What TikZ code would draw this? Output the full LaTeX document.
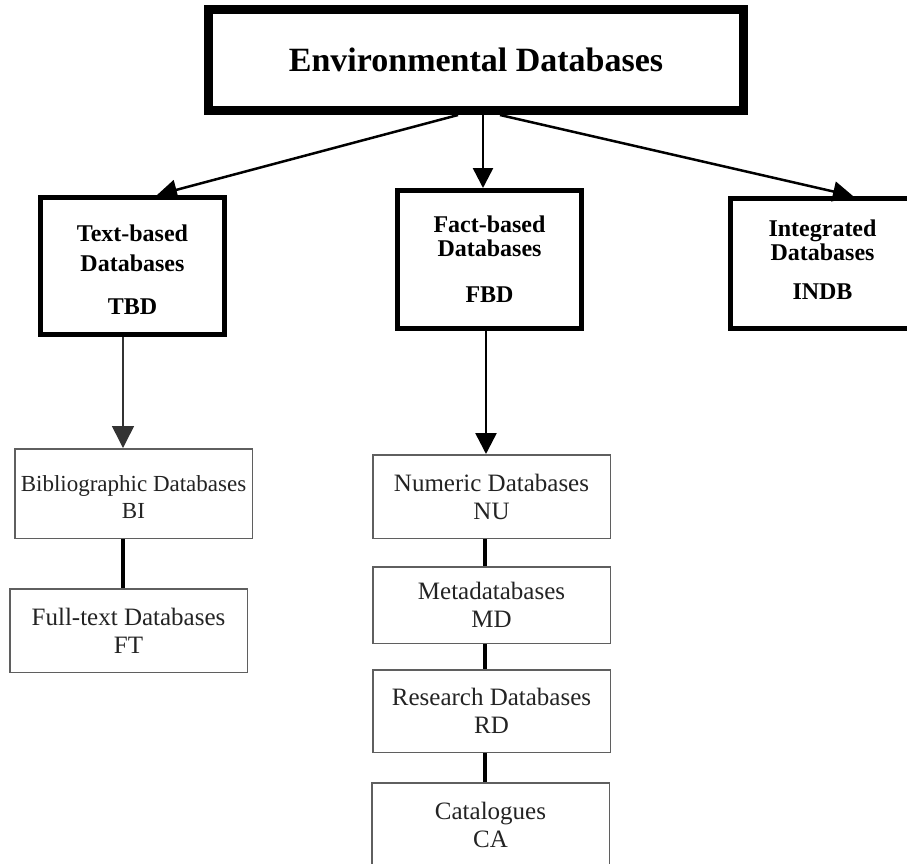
\documentclass[tikz,border=0pt]{standalone}
\usepackage{fontspec}
\setmainfont{Liberation Serif}
\usepackage{xcolor}
\usepackage{tikz}
\usetikzlibrary{arrows.meta}
\definecolor{boxgray}{RGB}{95, 95, 95}
\definecolor{textgray}{RGB}{35, 35, 35}

\begin{document}
\begin{tikzpicture}[x=1pt, y=-1pt,
    topbox/.style={draw, line width=9pt, minimum width=535pt,
                   minimum height=101pt, inner sep=0pt},
    kindbox/.style={draw, line width=5pt, minimum width=184pt, inner sep=0pt,
                    align=center, font=\fontsize{24}{24}\selectfont\bfseries},
    subbox/.style={draw=boxgray, line width=1.5pt, minimum width=237.5pt,
                   inner sep=0pt, align=center, text=textgray,
                   font=\fontsize{25}{28}\selectfont},
    bigarrow/.style={line width=2.5pt, -{Triangle[length=20pt, width=20pt]}},
    link/.style={line width=4.5pt}]
    % Canvas
    \useasboundingbox (0,0) rectangle (907,863);
    \clip (0,0) rectangle (907,863);
    % Root
    \node[topbox, font=\fontsize{34}{40}\selectfont\bfseries] (env) at (476,60)
        {Environmental Databases};
    % Three kinds of databases
    \node[kindbox, minimum height=137pt] (tbd) at (132.5,266)
        {\rule{0pt}{25pt}Text-based\\[6pt]Databases\\[19pt]TBD};
    \node[kindbox, minimum height=138pt] (fbd) at (489.5,259.5)
        {Fact-based\\Databases\\[22pt]FBD};
    \node[kindbox, minimum height=130pt] (indb) at (822.5,263.5)
        {Integrated\\Databases\\[15pt]INDB\rule[-7pt]{0pt}{7pt}};
    % Text-based branch
    \node[subbox, minimum height=89.5pt, font=\fontsize{23}{27}\selectfont] (bib)
        at (133.5,493.5) {\rule{0pt}{24pt}Bibliographic Databases\\BI};
    \node[subbox, minimum height=83.5pt] (full) at (128.5,630.5)
        {Full-text Databases\\FT};
    % Fact-based branch
    \node[subbox, minimum height=83.5pt] (num) at (491.5,496.5)
        {Numeric Databases\\NU};
    \node[subbox, minimum height=76.5pt] (meta) at (491.5,605)
        {Metadatabases\\MD};
    \node[subbox, minimum height=82.5pt] (res) at (491.5,711)
        {Research Databases\\RD};
    \node[subbox, minimum height=83.5pt] (cat) at (490.5,824.5)
        {Catalogues\\CA};
    % Arrows from the root
    \draw[bigarrow] ([xshift=-18pt]env.south) -- ([xshift=24.5pt]tbd.north);
    \draw[bigarrow] ([xshift=7pt]env.south) -- ([xshift=-6.5pt]fbd.north);
    \draw[bigarrow] ([xshift=24pt]env.south) -- ([xshift=30.5pt]indb.north);
    % Arrows down to the sub-databases
    \draw[line width=1.5pt, black!80, -{Triangle[length=22pt, width=22pt]}]
        ([xshift=-9.5pt]tbd.south) -- ([xshift=-10.5pt]bib.north);
    \draw[line width=2.5pt, -{Triangle[length=21pt, width=21pt]}]
        ([xshift=-3.5pt]fbd.south) -- ([xshift=-5.5pt]num.north);
    % Plain links
    \draw[link] ([xshift=-10.5pt]bib.south) -- ([xshift=-5.5pt]full.north);
    \draw[link] ([xshift=-6.5pt]num.south) -- ([xshift=-6.5pt]meta.north);
    \draw[link] ([xshift=-6.5pt]meta.south) -- ([xshift=-6.5pt]res.north);
    \draw[link] ([xshift=-6.5pt]res.south) -- ([xshift=-5.5pt]cat.north);
\end{tikzpicture}
\end{document}
